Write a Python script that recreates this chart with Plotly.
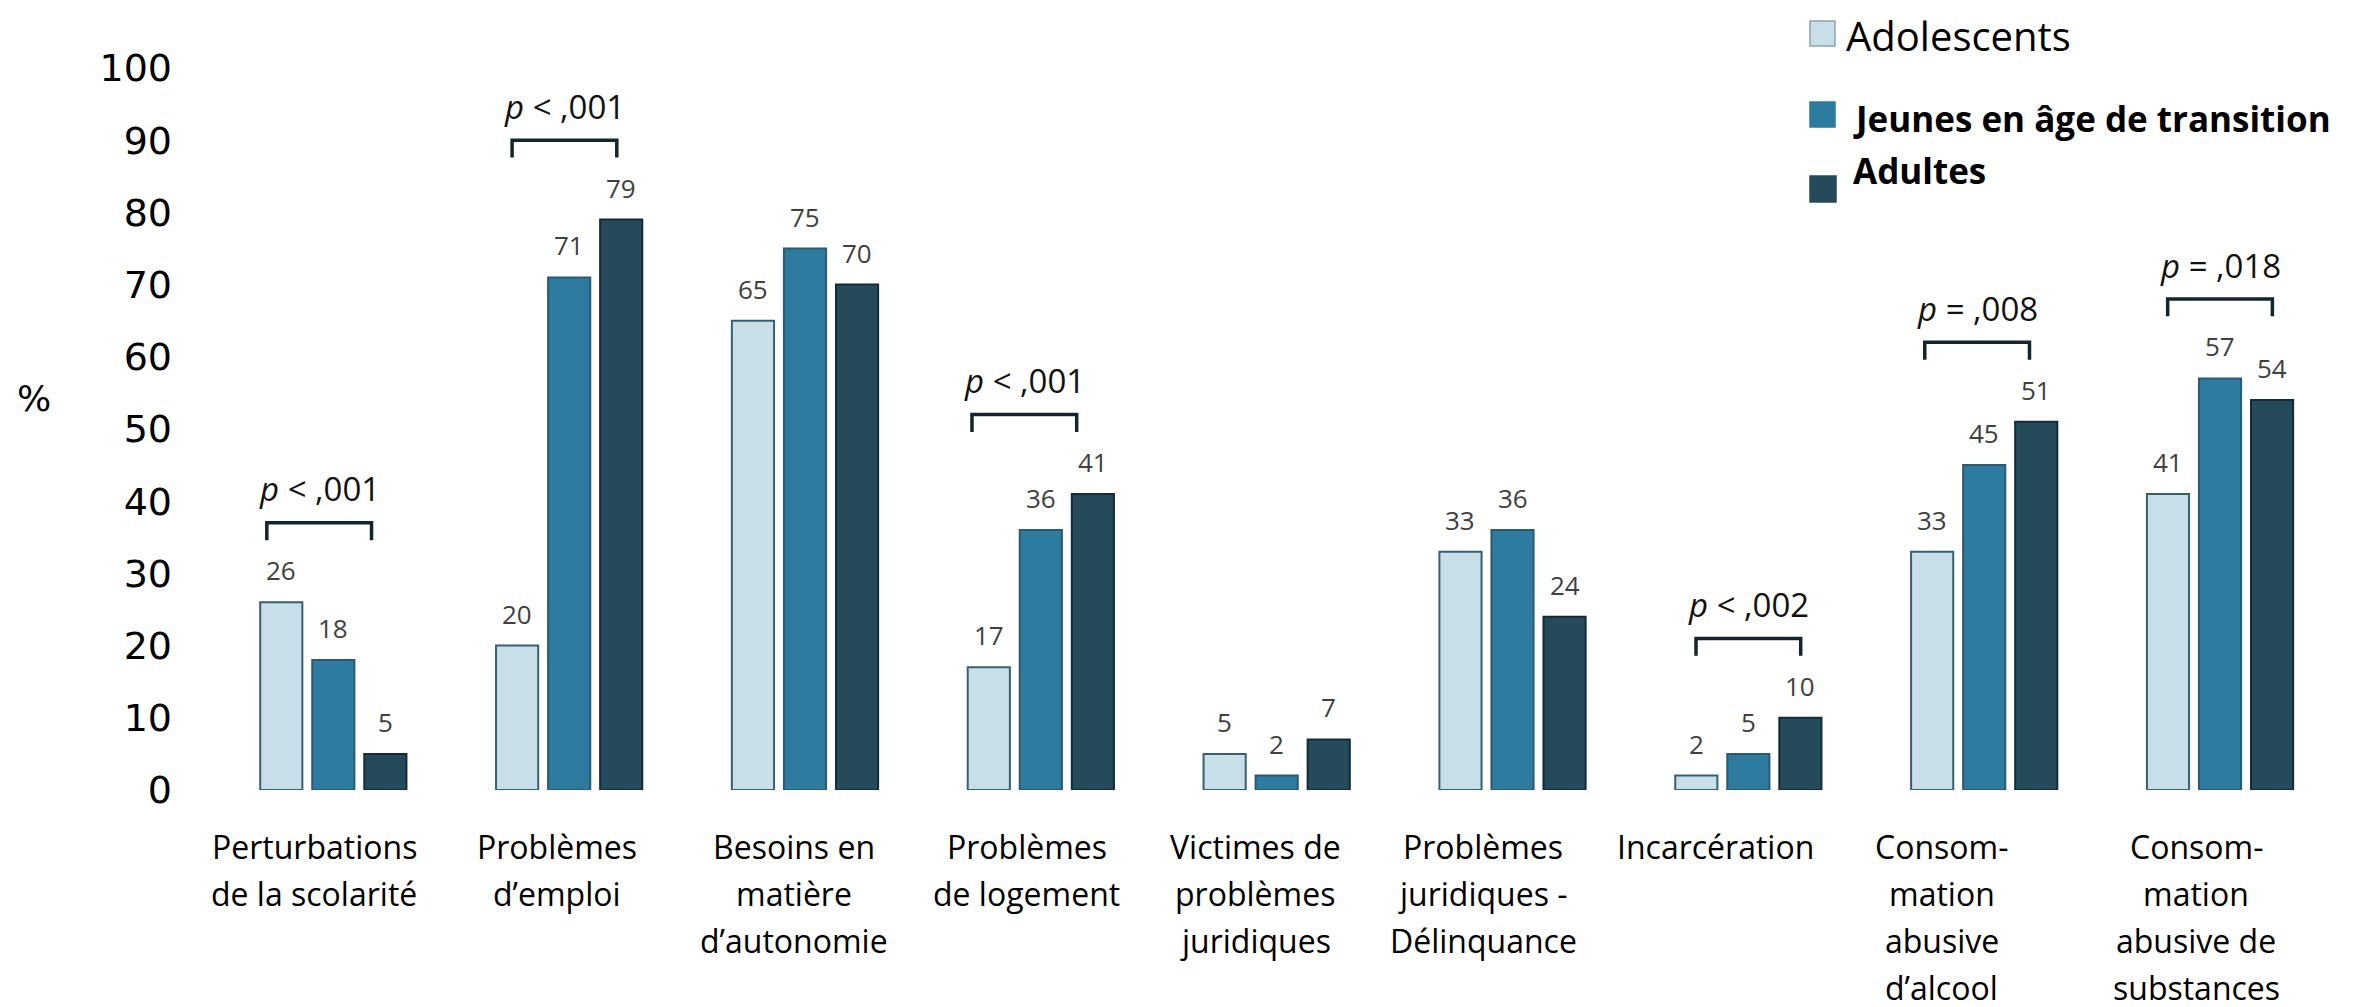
import plotly.graph_objects as go

# ---------------- data ----------------
categories = [
    "Perturbations<br>de la scolarité",
    "Problèmes<br>d’emploi",
    "Besoins en<br>matière<br>d’autonomie",
    "Problèmes<br>de logement",
    "Victimes de<br>problèmes<br>juridiques",
    "Problèmes<br>juridiques -<br>Délinquance",
    "Incarcération",
    "Consom-<br>mation<br>abusive<br>d’alcool",
    "Consom-<br>mation<br>abusive de<br>substances",
]
series_names = ["Adolescents", "Jeunes en âge de transition", "Adultes"]
adolescents = [26, 20, 65, 17, 5, 33, 2, 33, 41]
jeunes = [18, 71, 75, 36, 2, 36, 5, 45, 57]
adultes = [5, 79, 70, 41, 7, 24, 10, 51, 54]
p_categories = [0, 1, 3, 6, 7, 8]
p_labels = ["<i>p</i> < ,001", "<i>p</i> < ,001", "<i>p</i> < ,001",
            "<i>p</i> < ,002", "<i>p</i> = ,008", "<i>p</i> = ,018"]
y_ticks = [0, 10, 20, 30, 40, 50, 60, 70, 80, 90, 100]

# ---------------- styles / layout ----------------
W, H = 2362, 1007
ML, MR, MT, MB = 185, 12, 60, 225
fills = ["#c8dfe9", "#2e7ba0", "#254a5a"]
edges = ["#37606f", "#2b5a72", "#132b3a"]
BARGAP = 0.338
SLOT = (1 - BARGAP) / 3
label_offsets = [-0.08, -0.05, -0.045, -0.06, -0.09, -0.125, -0.14, -0.18, -0.1]
bracket_shifts = [-0.06, -0.02, -0.07, 0.0, -0.03, 0.0]
BRACKET_HALF = 0.222
LINE_H = 47

plot_w = W - ML - MR
plot_h = H - MT - MB


def px_x(px):
    return (px - ML) / plot_w


def px_y(py):
    return (H - MB - py) / plot_h


all_series = [adolescents, jeunes, adultes]
fig = go.Figure()
for name, vals, fc, ec in zip(series_names, all_series, fills, edges):
    fig.add_trace(go.Bar(
        x=list(range(len(categories))), y=vals, name=name,
        marker=dict(color=fc, line=dict(color=ec, width=2)),
        showlegend=False,
    ))

annotations = []
shapes = []

# value labels
for k, vals in enumerate(all_series):
    for i, v in enumerate(vals):
        annotations.append(dict(
            x=i + (k - 1) * SLOT, y=v, xref="x", yref="y",
            text=str(v), showarrow=False, yanchor="middle", yshift=32,
            font=dict(family="Open Sans", size=26, color="#404040"),
        ))

# category labels (one annotation per line)
for i, lab in enumerate(categories):
    for j, line in enumerate(lab.split("<br>")):
        annotations.append(dict(
            x=i + label_offsets[i], y=0, xref="x", yref="y",
            text=line, showarrow=False, yanchor="middle",
            yshift=-56 - LINE_H * j,
            font=dict(family="Open Sans", size=32, color="#000000"),
        ))

# p-value brackets
for ci, txt, sh in zip(p_categories, p_labels, bracket_shifts):
    top = max(adolescents[ci], jeunes[ci], adultes[ci]) + 11
    leg = 2.4
    x0 = ci + sh - BRACKET_HALF
    x1 = ci + sh + BRACKET_HALF
    shapes.append(dict(
        type="path", xref="x", yref="y",
        path=f"M {x0} {top - leg} L {x0} {top} L {x1} {top} L {x1} {top - leg}",
        line=dict(color="#13262e", width=3.5),
    ))
    annotations.append(dict(
        x=ci + sh, y=top, xref="x", yref="y", text=txt, showarrow=False,
        yanchor="middle", yshift=34,
        font=dict(family="Open Sans", size=33, color="#111111"),
    ))

# y-axis title "%"
annotations.append(dict(
    x=px_x(26), y=px_y(390), xref="paper", yref="paper", text="%",
    showarrow=False, xanchor="center", yanchor="middle",
    font=dict(family="DejaVu Sans", size=36, color="#000000"),
))

# custom legend
legend_items = [
    # (square left, square top, size, text left, text center y, bold, font size)
    (1802, 13, 25, 1836, 27, False, 40),
    (1802, 94, 25, 1843, 110, True, 35),
    (1802, 168, 26, 1843, 162, True, 35),
]
for (sx, sy, ss, tx, ty, bold, fs), name, fc, ec in zip(legend_items, series_names, fills, edges):
    shapes.append(dict(
        type="rect", xref="paper", yref="paper",
        x0=px_x(sx), x1=px_x(sx + ss), y0=px_y(sy + ss), y1=px_y(sy),
        fillcolor=fc, line=dict(color="#8fa3ad" if not bold else fc, width=1.5),
    ))
    annotations.append(dict(
        x=px_x(tx), y=px_y(ty), xref="paper", yref="paper",
        text=f"<b>{name}</b>" if bold else name, showarrow=False,
        xanchor="left", yanchor="middle",
        font=dict(family="Open Sans", size=fs, color="#000000"),
    ))

fig.update_layout(
    width=W, height=H,
    margin=dict(l=ML, r=MR, t=MT, b=MB, autoexpand=False),
    paper_bgcolor="white", plot_bgcolor="white",
    barmode="group", bargap=BARGAP, bargroupgap=0.19,
    annotations=annotations, shapes=shapes,
    showlegend=False,
    xaxis=dict(range=[-0.595, 8.585], showticklabels=False, showgrid=False,
               zeroline=False, showline=False, ticks=""),
    yaxis=dict(range=[0, 100], tickvals=y_ticks, showgrid=False,
               zeroline=False, showline=False, ticks="", ticklabelstandoff=20,
               tickfont=dict(family="DejaVu Sans", size=38, color="#000000")),
)
fig.write_html("out.html")
